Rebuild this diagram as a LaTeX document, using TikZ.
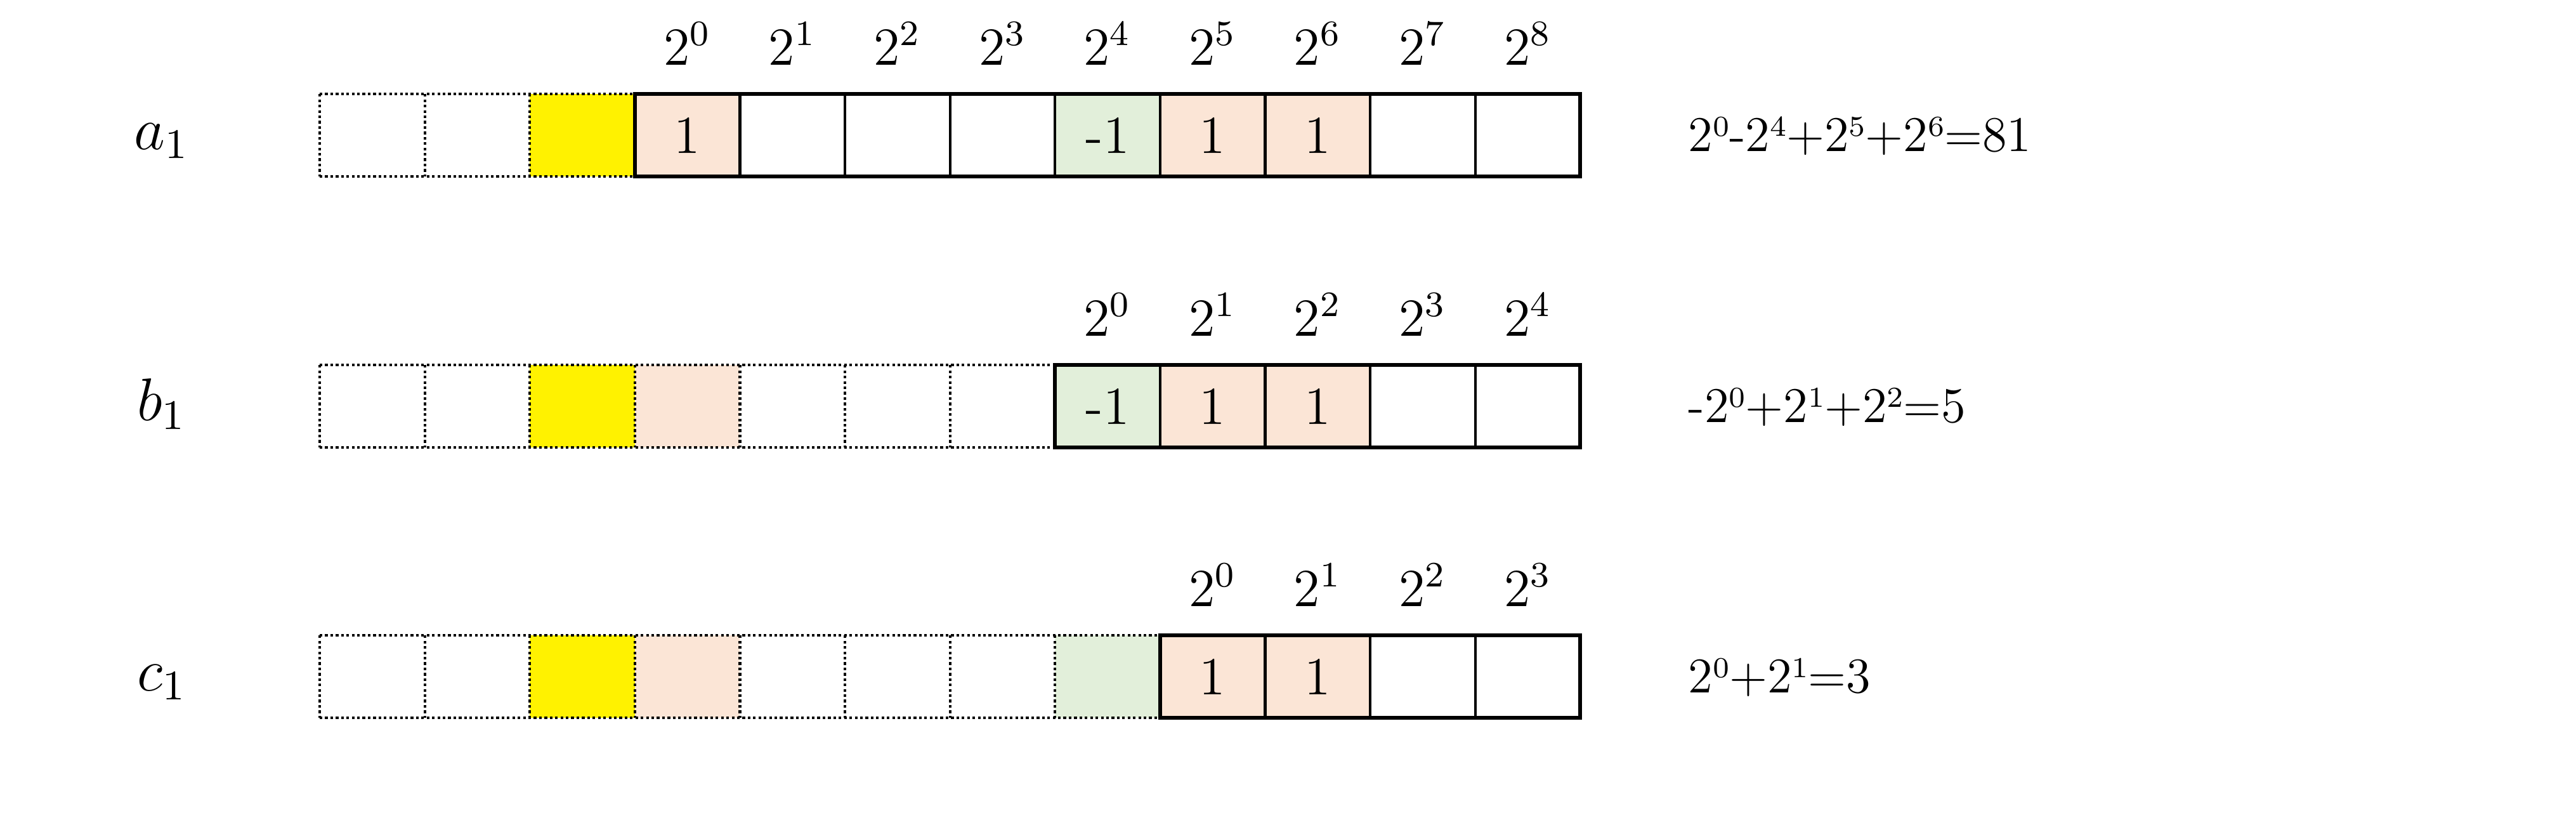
\RequirePackage{fix-cm}
\documentclass[tikz,border=0pt]{standalone}
\usepackage{tikz}
\usetikzlibrary{positioning}

\definecolor{cellpink}{RGB}{251,229,214}
\definecolor{cellgreen}{RGB}{226,239,218}
\newcommand{\sx}[1]{\raisebox{3.3pt}{\fontsize{6.5}{8}\selectfont #1}}

\begin{document}
\begin{tikzpicture}[
      cell/.style={rectangle,minimum width=0.828cm,minimum height=0.6475cm,inner sep=0pt,outer sep=0pt,font=\fontsize{12}{14}\selectfont},
      dotline/.style={draw=black,line width=0.6pt,dash pattern=on 0.6pt off 0.6pt},
      thinline/.style={draw=black,line width=0.6pt},
      frame/.style={draw=black,line width=0.85pt},
      pow/.style={inner sep=0pt,outer sep=0pt,font=\fontsize{12}{14}\selectfont},
      rowname/.style={anchor=base,inner sep=0pt,font=\fontsize{13.5}{16}\selectfont},
      total/.style={anchor=base west,inner sep=0pt,font=\fontsize{11.2}{14}\selectfont}
    ]
    \useasboundingbox (0,0) rectangle (20.305,6.4);

    % Row a
    \foreach \k/\f/\t in {0/white/{},1/white/{},2/yellow/{},3/cellpink/1,4/white/{},5/white/{},
                          6/white/{},7/cellgreen/-1,8/cellpink/1,9/cellpink/1,10/white/{},11/white/{}}
      \node[cell,fill=\f] (a\k) at ({2.934+0.828*\k},5.335) {\t};

    % Row b
    \foreach \k/\f/\t in {0/white/{},1/white/{},2/yellow/{},3/cellpink/{},4/white/{},5/white/{},
                          6/white/{},7/cellgreen/-1,8/cellpink/1,9/cellpink/1,10/white/{},11/white/{}}
      \node[cell,fill=\f] (b\k) at ({2.934+0.828*\k},3.2) {\t};

    % Row c
    \foreach \k/\f/\t in {0/white/{},1/white/{},2/yellow/{},3/cellpink/{},4/white/{},5/white/{},
                          6/white/{},7/cellgreen/{},8/cellpink/1,9/cellpink/1,10/white/{},11/white/{}}
      \node[cell,fill=\f] (c\k) at ({2.934+0.828*\k},1.07) {\t};

    % Borders: dotted part, then solid part
    \foreach \r/\m in {a/3,b/7,c/8} {
      \draw[dotline] (\r0.north west) -- (\r\m.north west) (\r0.south west) -- (\r\m.south west);
      \foreach \k in {0,...,\m} \draw[dotline] (\r\k.north west) -- (\r\k.south west);
      \foreach \k in {\m,...,10} \draw[thinline] (\r\k.north east) -- (\r\k.south east);
      \draw[frame] (\r\m.north west) rectangle (\r11.south east);
    }

    % Place values
    \foreach \r/\m in {a/3,b/7,c/8}
      \foreach \k [count=\e from 0] in {\m,...,11}
        \node[pow,above=0.23cm of \r\k.north] (p\r\k) {$2^{\e}$};

    % Names
    \node[rowname] (na) at (1.275,5.225) {$a_1$};
    \node[rowname] (nb) at (1.275,3.09) {$b_1$};
    \node[rowname] (nc) at (1.275,0.96) {$c_1$};

    % Sums
    \node[total] (ta) at (13.3,5.21) {2\sx{0}-2\sx{4}+2\sx{5}+2\sx{6}=81};
    \node[total] (tb) at (13.3,3.075) {-2\sx{0}+2\sx{1}+2\sx{2}=5};
    \node[total] (tc) at (13.3,0.945) {2\sx{0}+2\sx{1}=3};

  \end{tikzpicture}
\end{document}
